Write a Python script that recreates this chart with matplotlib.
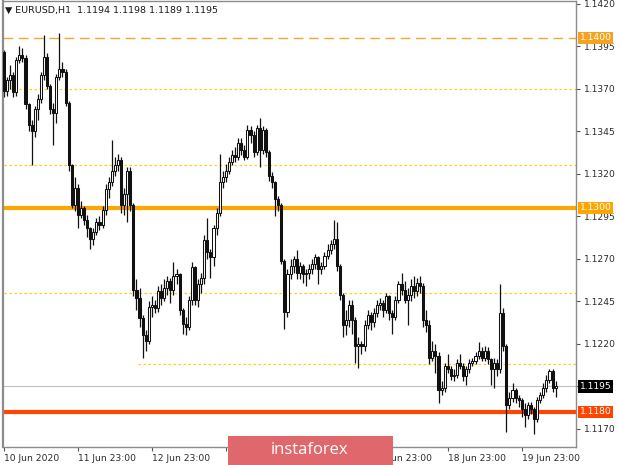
import numpy as np
import matplotlib
matplotlib.use('Agg')
import matplotlib.pyplot as plt
from matplotlib.patches import Rectangle

# EURUSD H1 candles (open of each bar = previous close)
first_open = 1.1392
closes = [
    1.1369, 1.1375, 1.1378, 1.1368, 1.1387, 1.1390, 1.1388, 1.1361, 1.1349, 1.1345, 1.1358, 1.1364,
    1.1378, 1.1389, 1.1372, 1.1358, 1.1356, 1.1377, 1.1382, 1.1380, 1.1362, 1.1325, 1.1302, 1.1312,
    1.1296, 1.1300, 1.1293, 1.1288, 1.1282, 1.1286, 1.1292, 1.1290, 1.1299, 1.1311, 1.1315, 1.1322,
    1.1325, 1.1328, 1.1302, 1.1308, 1.1322, 1.1302, 1.1252, 1.1247, 1.1235, 1.1225, 1.1222, 1.1242,
    1.1243, 1.1241, 1.1251, 1.1247, 1.1253, 1.1257, 1.1252, 1.1260, 1.1261, 1.1240, 1.1232, 1.1230,
    1.1246, 1.1265, 1.1246, 1.1255, 1.1259, 1.1281, 1.1274, 1.1271, 1.1288, 1.1297, 1.1315, 1.1318,
    1.1322, 1.1327, 1.1331, 1.1330, 1.1338, 1.1334, 1.1330, 1.1346, 1.1343, 1.1333, 1.1347, 1.1334,
    1.1346, 1.1333, 1.1319, 1.1315, 1.1305, 1.1302, 1.1269, 1.1239, 1.1261, 1.1266, 1.1270, 1.1262,
    1.1266, 1.1261, 1.1262, 1.1264, 1.1267, 1.1271, 1.1264, 1.1266, 1.1272, 1.1275, 1.1279, 1.1282,
    1.1266, 1.1249, 1.1231, 1.1234, 1.1243, 1.1234, 1.1219, 1.1220, 1.1219, 1.1231, 1.1237, 1.1233,
    1.1238, 1.1243, 1.1244, 1.1240, 1.1248, 1.1238, 1.1236, 1.1246, 1.1255, 1.1252, 1.1246, 1.1249,
    1.1254, 1.1251, 1.1256, 1.1254, 1.1234, 1.1231, 1.1212, 1.1216, 1.1213, 1.1193, 1.1194, 1.1207,
    1.1205, 1.1201, 1.1202, 1.1209, 1.1207, 1.1201, 1.1205, 1.1209, 1.1210, 1.1213, 1.1216, 1.1212,
    1.1216, 1.1211, 1.1205, 1.1209, 1.1205, 1.1238, 1.1219, 1.1184, 1.1188, 1.1193, 1.1188, 1.1187,
    1.1182, 1.1178, 1.1184, 1.1182, 1.1176, 1.1187, 1.1190, 1.1194, 1.1199, 1.1204, 1.1194, 1.1195,
]
highs = [
    1.1393, 1.1377, 1.1384, 1.1380, 1.1389, 1.1395, 1.1394, 1.1390, 1.1362, 1.1352, 1.1360, 1.1367,
    1.1380, 1.1402, 1.1391, 1.1373, 1.1362, 1.1379, 1.1403, 1.1386, 1.1382, 1.1363, 1.1326, 1.1318,
    1.1314, 1.1304, 1.1301, 1.1296, 1.1289, 1.1288, 1.1294, 1.1295, 1.1301, 1.1314, 1.1318, 1.1340,
    1.1330, 1.1332, 1.1330, 1.1312, 1.1324, 1.1324, 1.1303, 1.1258, 1.1253, 1.1237, 1.1228, 1.1245,
    1.1248, 1.1246, 1.1254, 1.1255, 1.1258, 1.1260, 1.1259, 1.1268, 1.1264, 1.1262, 1.1241, 1.1236,
    1.1248, 1.1268, 1.1266, 1.1258, 1.1262, 1.1284, 1.1294, 1.1276, 1.1290, 1.1300, 1.1332, 1.1322,
    1.1326, 1.1330, 1.1334, 1.1336, 1.1341, 1.1341, 1.1337, 1.1349, 1.1348, 1.1345, 1.1349, 1.1353,
    1.1348, 1.1347, 1.1334, 1.1321, 1.1316, 1.1307, 1.1303, 1.1270, 1.1264, 1.1270, 1.1272, 1.1275,
    1.1268, 1.1267, 1.1264, 1.1267, 1.1270, 1.1273, 1.1272, 1.1268, 1.1274, 1.1279, 1.1281, 1.1293,
    1.1292, 1.1267, 1.1250, 1.1240, 1.1246, 1.1246, 1.1236, 1.1224, 1.1222, 1.1234, 1.1240, 1.1239,
    1.1241, 1.1246, 1.1247, 1.1246, 1.1250, 1.1249, 1.1240, 1.1248, 1.1257, 1.1262, 1.1257, 1.1253,
    1.1258, 1.1260, 1.1259, 1.1260, 1.1256, 1.1240, 1.1234, 1.1222, 1.1220, 1.1215, 1.1198, 1.1209,
    1.1214, 1.1207, 1.1205, 1.1211, 1.1214, 1.1209, 1.1207, 1.1211, 1.1212, 1.1215, 1.1221, 1.1218,
    1.1219, 1.1218, 1.1212, 1.1212, 1.1211, 1.1255, 1.1241, 1.1220, 1.1192, 1.1197, 1.1194, 1.1190,
    1.1188, 1.1185, 1.1186, 1.1186, 1.1183, 1.1189, 1.1192, 1.1197, 1.1202, 1.1205, 1.1205, 1.1198,
]
lows = [
    1.1365, 1.1366, 1.1370, 1.1365, 1.1366, 1.1385, 1.1386, 1.1358, 1.1345, 1.1325, 1.1342, 1.1352,
    1.1362, 1.1375, 1.1370, 1.1355, 1.1337, 1.1350, 1.1375, 1.1377, 1.1360, 1.1322, 1.1300, 1.1298,
    1.1288, 1.1294, 1.1290, 1.1283, 1.1276, 1.1278, 1.1284, 1.1287, 1.1288, 1.1296, 1.1306, 1.1313,
    1.1319, 1.1322, 1.1297, 1.1296, 1.1292, 1.1298, 1.1248, 1.1240, 1.1230, 1.1212, 1.1216, 1.1220,
    1.1236, 1.1238, 1.1239, 1.1243, 1.1245, 1.1249, 1.1244, 1.1249, 1.1255, 1.1237, 1.1226, 1.1225,
    1.1228, 1.1243, 1.1243, 1.1242, 1.1250, 1.1255, 1.1270, 1.1259, 1.1266, 1.1284, 1.1295, 1.1312,
    1.1315, 1.1320, 1.1325, 1.1327, 1.1328, 1.1331, 1.1328, 1.1329, 1.1338, 1.1330, 1.1331, 1.1324,
    1.1332, 1.1330, 1.1316, 1.1312, 1.1295, 1.1298, 1.1267, 1.1229, 1.1236, 1.1258, 1.1262, 1.1258,
    1.1258, 1.1256, 1.1254, 1.1258, 1.1261, 1.1264, 1.1255, 1.1261, 1.1264, 1.1270, 1.1273, 1.1276,
    1.1263, 1.1246, 1.1224, 1.1225, 1.1230, 1.1226, 1.1209, 1.1206, 1.1214, 1.1216, 1.1229, 1.1228,
    1.1230, 1.1236, 1.1240, 1.1236, 1.1238, 1.1234, 1.1226, 1.1234, 1.1244, 1.1249, 1.1244, 1.1231,
    1.1245, 1.1247, 1.1248, 1.1250, 1.1230, 1.1227, 1.1208, 1.1210, 1.1203, 1.1185, 1.1190, 1.1192,
    1.1203, 1.1199, 1.1198, 1.1200, 1.1205, 1.1198, 1.1196, 1.1203, 1.1207, 1.1208, 1.1211, 1.1210,
    1.1210, 1.1208, 1.1196, 1.1194, 1.1201, 1.1203, 1.1216, 1.1168, 1.1182, 1.1186, 1.1185, 1.1183,
    1.1177, 1.1171, 1.1176, 1.1179, 1.1167, 1.1174, 1.1185, 1.1188, 1.1192, 1.1197, 1.1192, 1.1189,
]

# x axis labels every 24 bars (two of them sit under the watermark)
tick_bars = [0, 24, 48, 72, 96, 120, 144, 168]
tick_labels = ['10 Jun 2020', '11 Jun 23:00', '12 Jun 23:00', '',
               '', '17 Jun 23:00', '18 Jun 23:00', '19 Jun 23:00']
price_ticks = [1.1170, 1.1195, 1.1220, 1.1245, 1.1270, 1.1295, 1.1320, 1.1345, 1.1370, 1.1395, 1.1420]

# horizontal levels drawn on the chart
dotted_levels = [1.1370, 1.1325, 1.1250, 1.1208]
dotted_starts = [0, 0, 0, 43.5]
dashed_level = 1.1400
support_level = 1.1180
resist_level = 1.1300
bid_price = 1.1195

closes = np.array(closes)
opens = np.concatenate([[first_open], closes[:-1]])
highs = np.array(highs)
lows = np.array(lows)
x = np.arange(len(closes))

fig = plt.figure(figsize=(6.2, 4.65), dpi=100)
ax = fig.add_axes([3 / 620, 18 / 465, 573 / 620, 446 / 465])
xmax = 185.6
ax.set_xlim(-0.3, xmax)
ax.set_ylim(1.115941, 1.142176)

# levels
for lvl, x0 in zip(dotted_levels, dotted_starts):
    ax.plot([x0, xmax], [lvl, lvl], color='#f6d21e', lw=0.9, ls=(0, (2, 2)), zorder=1)
ax.axhline(dashed_level, color='#f5a534', lw=1.0, ls=(0, (7, 4)), zorder=1)
ax.axhline(resist_level, color='#ffa500', lw=3.0, zorder=1)
ax.axhline(support_level, color='#ff4500', lw=3.0, zorder=1)
ax.axhline(bid_price, color='#c0c0c0', lw=0.8, zorder=1)

# candles
up = closes >= opens
ax.vlines(x, lows, highs, color='#111111', lw=0.9, zorder=2)
body_lo = np.minimum(opens, closes)
body_h = np.maximum(np.abs(closes - opens), 0.00003)
ax.bar(x[up], body_h[up], bottom=body_lo[up], width=0.68, color='white',
       edgecolor='#111111', linewidth=0.75, zorder=3)
ax.bar(x[~up], body_h[~up], bottom=body_lo[~up], width=0.68, color='#111111',
       edgecolor='#111111', linewidth=0.75, zorder=3)

# axes styling
for s in ax.spines.values():
    s.set_color('#8c8c8c')
    s.set_linewidth(1.0)
ax.spines['left'].set_linewidth(1.6)
ax.yaxis.tick_right()
ax.set_yticks(price_ticks)
ax.set_yticklabels(['' if p == bid_price else '%.4f' % p for p in price_ticks])
ax.set_xticks(tick_bars)
ax.set_xticklabels(tick_labels, ha='left')
ax.tick_params(axis='both', length=3, width=0.8, color='#555555', labelsize=6.6,
               labelcolor='#2b2b2b')
ax.tick_params(axis='x', pad=2)
ax.tick_params(axis='y', pad=3)

# price labels on the right axis
def price_box(val, fc):
    ax.annotate('%.4f' % val, xy=(1, val), xycoords=('axes fraction', 'data'),
                xytext=(2.5, 0), textcoords='offset points', ha='left', va='center',
                fontsize=6.6, color='white', zorder=10, annotation_clip=False,
                bbox=dict(boxstyle='square,pad=0.2', fc=fc, ec='none'))

price_box(dashed_level, '#f5a21e')
price_box(resist_level, '#ffa500')
price_box(bid_price, 'black')
price_box(support_level, '#ff4500')

fig.text(5 / 620, 1 - 10 / 465, '\u25BC EURUSD,H1  1.1194 1.1198 1.1189 1.1195',
         fontsize=6.8, color='#1a1a1a', va='center', ha='left')

# watermark banner
fig.patches.append(Rectangle((228 / 620, 0), 165 / 620, 29 / 465, transform=fig.transFigure,
                             facecolor='#e0686c', edgecolor='none', zorder=20))
fig.text(310 / 620, 15 / 465, 'instaforex', fontsize=12, color='white', ha='center',
         va='center', family='Open Sans', zorder=21)

fig.savefig('out.png', dpi=100)
